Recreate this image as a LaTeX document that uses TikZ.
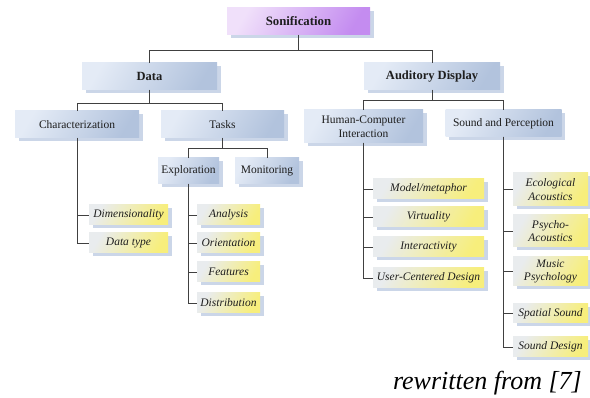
\documentclass[tikz,border=0pt]{standalone}
\usepackage{fontspec}
\setmainfont{Liberation Serif}
\usetikzlibrary{shadows}
\definecolor{blueA}{HTML}{E4EBF6}
\definecolor{blueB}{HTML}{B2C3DD}
\definecolor{purpA}{HTML}{F0E0FA}
\definecolor{purpB}{HTML}{C48CF0}
\definecolor{yellA}{HTML}{E9ECEE}
\definecolor{yellB}{HTML}{F7EE7C}
\definecolor{shadowcol}{HTML}{CBD6E8}
\definecolor{linecol}{HTML}{404040}
\definecolor{textcol}{HTML}{1E1E1E}
\tikzset{
  x=1pt, y=1pt,
  box/.style={inner sep=0pt, outer sep=0pt, align=center, text=textcol,
    general shadow={fill=shadowcol, shadow xshift=3.5pt, shadow yshift=-3.5pt}},
  bluebox/.style={box, left color=blueA, right color=blueB, shading angle=60,
    font=\fontsize{11.5}{13.8}\selectfont},
  topbox/.style={bluebox, font=\fontsize{12.5}{14}\selectfont\bfseries},
  rootbox/.style={box, left color=purpA, right color=purpB, shading angle=60,
    font=\fontsize{12.8}{14}\selectfont\bfseries},
  leafbox/.style={box, left color=yellA, right color=yellB, shading angle=60,
    font=\fontsize{11.5}{13.8}\selectfont\itshape},
  link/.style={draw=linecol, line width=0.9pt},
}
\begin{document}
\begin{tikzpicture}
\useasboundingbox (0,0) rectangle (590,-398);

% root and first level
\node[rootbox, minimum width=143, minimum height=27] (son) at (298.5,-21.5) {Sonification};
\node[topbox, minimum width=135, minimum height=27] (data) at (149.5,-76.5) {Data};
\node[topbox, minimum width=136, minimum height=27] (aud) at (432,-76.5) {Auditory Display};

% second level
\node[bluebox, minimum width=124, minimum height=27] (char) at (77,-124.5) {Characterization};
\node[bluebox, minimum width=123, minimum height=27] (tasks) at (222.5,-124.5) {Tasks};
\node[bluebox, minimum width=61, minimum height=26] (expl) at (188.5,-171) {Exploration};
\node[bluebox, minimum width=64, minimum height=26] (mon) at (267,-171) {Monitoring};
\node[bluebox, minimum width=119, minimum height=33] (hci) at (363.5,-126.5) {Human-Computer\\Interaction};
\node[bluebox, minimum width=116, minimum height=27] (snp) at (503.5,-123.5) {Sound and Perception};

% leaves: data characterization
\node[leafbox, minimum width=79, minimum height=20] (dim) at (128.5,-215) {Dimensionality};
\node[leafbox, minimum width=79, minimum height=20] (dtype) at (128.5,-243) {Data type};

% leaves: exploration
\node[leafbox, minimum width=63, minimum height=20] (ana) at (228.5,-215) {Analysis};
\node[leafbox, minimum width=63, minimum height=20] (ori) at (228.5,-243) {Orientation};
\node[leafbox, minimum width=63, minimum height=20] (feat) at (228.5,-272) {Features};
\node[leafbox, minimum width=63, minimum height=20] (dist) at (228.5,-303) {Distribution};

% leaves: human-computer interaction
\node[leafbox, minimum width=111, minimum height=20] (model) at (428.5,-189) {Model/metaphor};
\node[leafbox, minimum width=111, minimum height=20] (virt) at (428.5,-217) {Virtuality};
\node[leafbox, minimum width=111, minimum height=20] (inter) at (428.5,-247) {Interactivity};
\node[leafbox, minimum width=111, minimum height=20] (ucd) at (428.5,-278) {User-Centered Design};

% leaves: sound and perception
\node[leafbox, minimum width=75, minimum height=33] (eco) at (550.5,-189.5) {Ecological\\Acoustics};
\node[leafbox, minimum width=75, minimum height=32] (psy) at (550.5,-231) {Psycho-\\Acoustics};
\node[leafbox, minimum width=75, minimum height=29] (mus) at (550.5,-271.5) {Music\\Psychology};
\node[leafbox, minimum width=75, minimum height=19] (spat) at (550.5,-313.5) {Spatial Sound};
\node[leafbox, minimum width=75, minimum height=20] (sdes) at (550.5,-347) {Sound Design};

% tree connectors
\draw[link] (son.south) -- (son.south |- 0,-50) -| (data.north);
\draw[link] (son.south) -- (son.south |- 0,-50) -| (aud.north);
\draw[link] (data.south) -- (data.south |- 0,-103) -| (char.north);
\draw[link] (data.south) -- (data.south |- 0,-103) -| (tasks.north);
\draw[link] (tasks.south) -- (tasks.south |- 0,-148) -| (expl.north);
\draw[link] (tasks.south) -- (tasks.south |- 0,-148) -| (mon.north);
\draw[link] (aud.south) -- (aud.south |- 0,-100) -| (hci.north);
\draw[link] (aud.south) -- (aud.south |- 0,-100) -| (snp.north);

\draw[link] (char.south) |- (dim.west);
\draw[link] (char.south) |- (dtype.west);

\draw[link] (expl.south) |- (ana.west);
\draw[link] (expl.south) |- (ori.west);
\draw[link] (expl.south) |- (feat.west);
\draw[link] (expl.south) |- (dist.west);

\draw[link] (hci.south) |- (model.west);
\draw[link] (hci.south) |- (virt.west);
\draw[link] (hci.south) |- (inter.west);
\draw[link] (hci.south) |- (ucd.west);

\draw[link] (snp.south) |- (eco.west);
\draw[link] (snp.south) |- (psy.west);
\draw[link] (snp.south) |- (mus.west);
\draw[link] (snp.south) |- (spat.west);
\draw[link] (snp.south) |- (sdes.west);

% source note
\node[anchor=base east, inner sep=0pt, text=black,
  font=\fontsize{26}{30}\selectfont\itshape] (note) at (582,-390) {rewritten from [7]};
\end{tikzpicture}
\end{document}
